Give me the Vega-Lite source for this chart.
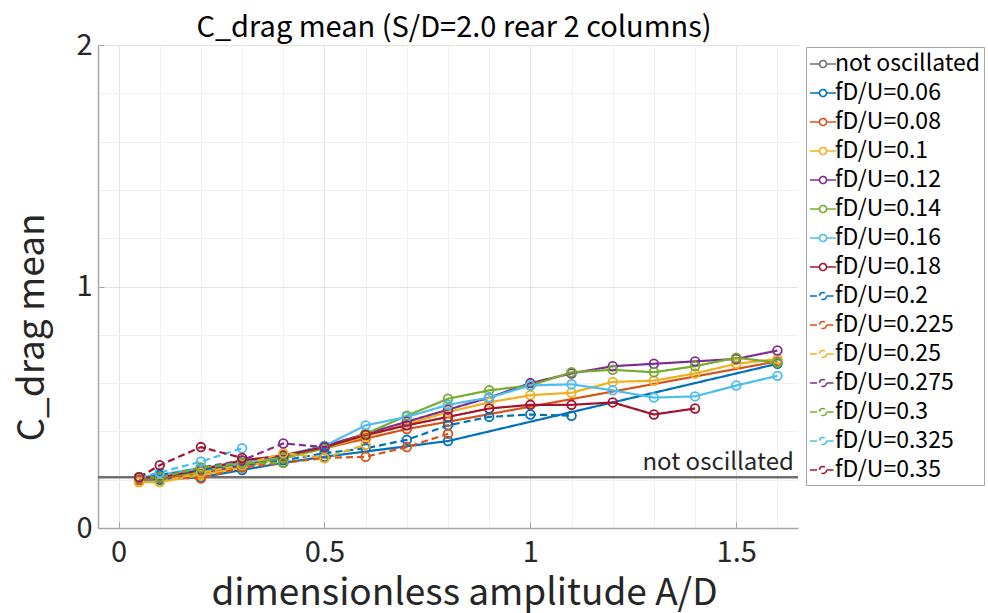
{
  "$schema": "https://vega.github.io/schema/vega-lite/v6.json",
  "autosize": {"type": "none"},
  "padding": {"left": 98, "top": 45, "right": 190, "bottom": 85},
  "width": 700,
  "height": 483,
  "background": "white",
  "title": {"text": "C_drag mean (S/D=2.0 rear 2 columns)", "font": "Noto Sans CJK JP", "fontSize": 29, "fontWeight": "normal", "color": "#000", "anchor": "middle", "frame": "group", "dx": 6, "offset": -12},
  "config": {
    "view": {"stroke": null},
    "axis": {"labelFont": "Noto Sans CJK JP", "titleFont": "Noto Sans CJK JP", "labelColor": "#262626", "titleColor": "#262626", "labelFontSize": 29, "titleFontSize": 37, "titleFontWeight": "normal", "domainColor": "#a6a6a6", "domainWidth": 1.5, "tickSize": -6, "tickWidth": 1},
    "legend": {
      "title": null,
      "orient": "none",
      "legendX": 708,
      "legendY": 2,
      "padding": 3,
      "strokeColor": "#a6a6a6",
      "fillColor": "white",
      "labelFont": "Noto Sans CJK JP",
      "labelFontSize": 23,
      "labelColor": "#000",
      "labelOffset": -2,
      "symbolSize": 676,
      "symbolStrokeWidth": 1.6,
      "symbolFillColor": "transparent",
      "rowPadding": 3,
      "labelLimit": 300
    }
  },
  "layer": [
    {
      "data": {"values": [{"s": "not oscillated", "y": 0.21}]},
      "mark": {"type": "rule", "strokeWidth": 2.5},
      "encoding": {
        "y": {"field": "y", "type": "quantitative", "scale": {"domain": [0, 2], "nice": false}},
        "color": {
          "field": "s", "type": "nominal",
          "scale": {
            "domain": ["not oscillated", "fD/U=0.06", "fD/U=0.08", "fD/U=0.1", "fD/U=0.12", "fD/U=0.14", "fD/U=0.16", "fD/U=0.18", "fD/U=0.2", "fD/U=0.225", "fD/U=0.25", "fD/U=0.275", "fD/U=0.3", "fD/U=0.325", "fD/U=0.35"],
            "range": ["#707070", "#0072BD", "#D95319", "#EDB120", "#7E2F8E", "#77AC30", "#4DBEEE", "#A2142F", "#0072BD", "#D95319", "#EDB120", "#7E2F8E", "#77AC30", "#4DBEEE", "#A2142F"]
          },
          "legend": {"symbolType": "M-1,0H-0.27M0.27,0H1M0.27,0A0.27,0.27,0,1,1,-0.27,0A0.27,0.27,0,1,1,0.27,0"}
        }
      }
    },
    {
      "data": {"values": [{"t": "not oscillated", "x": 1.64, "y": 0.21}]},
      "mark": {"type": "text", "align": "right", "baseline": "bottom", "dy": -2, "font": "Noto Sans CJK JP", "fontSize": 24, "color": "#262626"},
      "encoding": {
        "x": {"field": "x", "type": "quantitative"},
        "y": {"field": "y", "type": "quantitative"},
        "text": {"field": "t"}
      }
    },
    {
      "data": {"name": "series"},
      "mark": {"type": "line", "strokeWidth": 2.2},
      "encoding": {
        "x": {"field": "x", "type": "quantitative"},
        "y": {"field": "y", "type": "quantitative"},
        "strokeDash": {
          "field": "s", "type": "nominal",
          "scale": {
            "domain": ["not oscillated", "fD/U=0.06", "fD/U=0.08", "fD/U=0.1", "fD/U=0.12", "fD/U=0.14", "fD/U=0.16", "fD/U=0.18", "fD/U=0.2", "fD/U=0.225", "fD/U=0.25", "fD/U=0.275", "fD/U=0.3", "fD/U=0.325", "fD/U=0.35"],
            "range": [[1, 0], [1, 0], [1, 0], [1, 0], [1, 0], [1, 0], [1, 0], [1, 0], [7, 4], [7, 4], [7, 4], [7, 4], [7, 4], [7, 4], [7, 4]]
          },
          "legend": {"symbolType": "M-1,0H-0.27M0.27,0H1M0.27,0A0.27,0.27,0,1,1,-0.27,0A0.27,0.27,0,1,1,0.27,0"}
        },
        "color": {
          "field": "s", "type": "nominal",
          "legend": {"symbolType": "M-1,0H-0.27M0.27,0H1M0.27,0A0.27,0.27,0,1,1,-0.27,0A0.27,0.27,0,1,1,0.27,0"}
        }
      }
    },
    {
      "data": {"name": "series"},
      "mark": {"type": "point", "shape": "circle", "filled": false, "size": 75, "strokeWidth": 1.8, "opacity": 1},
      "encoding": {
        "x": {
          "field": "x", "type": "quantitative",
          "scale": {"domain": [-0.05, 1.65], "nice": false, "zero": false},
          "axis": {
            "title": "dimensionless amplitude A/D",
            "values": [0, 0.1, 0.2, 0.3, 0.4, 0.5, 0.6, 0.7, 0.8, 0.9, 1, 1.1, 1.2, 1.3, 1.4, 1.5, 1.6],
            "labelExpr": "datum.value==0?'0':datum.value==0.5?'0.5':datum.value==1?'1':datum.value==1.5?'1.5':''",
            "gridColor": {"condition": {"test": "datum.value==0||datum.value==0.5||datum.value==1||datum.value==1.5", "value": "#e3e3e3"}, "value": "#f1f1f1"},
            "tickColor": {"condition": {"test": "datum.value==0||datum.value==0.5||datum.value==1||datum.value==1.5", "value": "#a6a6a6"}, "value": "transparent"},
            "grid": true,
            "labelPadding": 16,
            "titleBaseline": "alphabetic",
            "titleX": 366,
            "titleY": 76
          }
        },
        "y": {
          "field": "y", "type": "quantitative",
          "scale": {"domain": [0, 2], "nice": false},
          "axis": {
            "title": "C_drag mean",
            "values": [0, 0.1, 0.2, 0.3, 0.4, 0.5, 0.6, 0.7, 0.8, 0.9, 1, 1.1, 1.2, 1.3, 1.4, 1.5, 1.6, 1.7, 1.8, 1.9, 2],
            "labelExpr": "datum.value==0?'0':datum.value==0.5?'0.5':datum.value==1?'1':datum.value==1.5?'1.5':datum.value==2?'2':''",
            "gridColor": {"condition": {"test": "datum.value==0||datum.value==0.5||datum.value==1||datum.value==1.5||datum.value==2", "value": "#e3e3e3"}, "value": "#f1f1f1"},
            "tickColor": {"condition": {"test": "datum.value==0||datum.value==0.5||datum.value==1||datum.value==1.5||datum.value==2", "value": "#a6a6a6"}, "value": "transparent"},
            "grid": true,
            "labelPadding": 12,
            "titleX": -47,
            "titleY": 282
          }
        },
        "color": {
          "field": "s", "type": "nominal",
          "legend": {"symbolType": "M-1,0H-0.27M0.27,0H1M0.27,0A0.27,0.27,0,1,1,-0.27,0A0.27,0.27,0,1,1,0.27,0"}
        }
      }
    }
  ],
  "data": {"name": "series", "values": [
    {"s": "fD/U=0.06", "x": 0.05, "y": 0.20},
    {"s": "fD/U=0.06", "x": 0.1, "y": 0.20},
    {"s": "fD/U=0.06", "x": 0.2, "y": 0.21},
    {"s": "fD/U=0.06", "x": 0.3, "y": 0.24},
    {"s": "fD/U=0.06", "x": 0.4, "y": 0.27},
    {"s": "fD/U=0.06", "x": 0.5, "y": 0.295},
    {"s": "fD/U=0.06", "x": 0.8, "y": 0.36},
    {"s": "fD/U=0.06", "x": 1.6, "y": 0.68},

    {"s": "fD/U=0.08", "x": 0.05, "y": 0.20},
    {"s": "fD/U=0.08", "x": 0.1, "y": 0.21},
    {"s": "fD/U=0.08", "x": 0.2, "y": 0.22},
    {"s": "fD/U=0.08", "x": 0.3, "y": 0.26},
    {"s": "fD/U=0.08", "x": 0.4, "y": 0.29},
    {"s": "fD/U=0.08", "x": 0.5, "y": 0.33},
    {"s": "fD/U=0.08", "x": 0.6, "y": 0.37},
    {"s": "fD/U=0.08", "x": 0.7, "y": 0.41},
    {"s": "fD/U=0.08", "x": 0.8, "y": 0.44},
    {"s": "fD/U=0.08", "x": 1.6, "y": 0.69},

    {"s": "fD/U=0.1", "x": 0.05, "y": 0.19},
    {"s": "fD/U=0.1", "x": 0.1, "y": 0.19},
    {"s": "fD/U=0.1", "x": 0.2, "y": 0.22},
    {"s": "fD/U=0.1", "x": 0.3, "y": 0.25},
    {"s": "fD/U=0.1", "x": 0.4, "y": 0.29},
    {"s": "fD/U=0.1", "x": 0.5, "y": 0.33},
    {"s": "fD/U=0.1", "x": 0.6, "y": 0.38},
    {"s": "fD/U=0.1", "x": 0.7, "y": 0.43},
    {"s": "fD/U=0.1", "x": 0.8, "y": 0.48},
    {"s": "fD/U=0.1", "x": 0.9, "y": 0.52},
    {"s": "fD/U=0.1", "x": 1.0, "y": 0.55},
    {"s": "fD/U=0.1", "x": 1.1, "y": 0.56},
    {"s": "fD/U=0.1", "x": 1.2, "y": 0.605},
    {"s": "fD/U=0.1", "x": 1.3, "y": 0.61},
    {"s": "fD/U=0.1", "x": 1.4, "y": 0.64},
    {"s": "fD/U=0.1", "x": 1.5, "y": 0.68},
    {"s": "fD/U=0.1", "x": 1.6, "y": 0.70},

    {"s": "fD/U=0.12", "x": 0.05, "y": 0.20},
    {"s": "fD/U=0.12", "x": 0.1, "y": 0.21},
    {"s": "fD/U=0.12", "x": 0.2, "y": 0.23},
    {"s": "fD/U=0.12", "x": 0.3, "y": 0.26},
    {"s": "fD/U=0.12", "x": 0.4, "y": 0.30},
    {"s": "fD/U=0.12", "x": 0.5, "y": 0.34},
    {"s": "fD/U=0.12", "x": 0.6, "y": 0.39},
    {"s": "fD/U=0.12", "x": 0.7, "y": 0.44},
    {"s": "fD/U=0.12", "x": 0.8, "y": 0.49},
    {"s": "fD/U=0.12", "x": 0.9, "y": 0.54},
    {"s": "fD/U=0.12", "x": 1.0, "y": 0.60},
    {"s": "fD/U=0.12", "x": 1.1, "y": 0.64},
    {"s": "fD/U=0.12", "x": 1.2, "y": 0.67},
    {"s": "fD/U=0.12", "x": 1.3, "y": 0.68},
    {"s": "fD/U=0.12", "x": 1.4, "y": 0.69},
    {"s": "fD/U=0.12", "x": 1.5, "y": 0.70},
    {"s": "fD/U=0.12", "x": 1.6, "y": 0.735},

    {"s": "fD/U=0.14", "x": 0.05, "y": 0.20},
    {"s": "fD/U=0.14", "x": 0.1, "y": 0.21},
    {"s": "fD/U=0.14", "x": 0.2, "y": 0.23},
    {"s": "fD/U=0.14", "x": 0.3, "y": 0.27},
    {"s": "fD/U=0.14", "x": 0.4, "y": 0.29},
    {"s": "fD/U=0.14", "x": 0.5, "y": 0.33},
    {"s": "fD/U=0.14", "x": 0.6, "y": 0.39},
    {"s": "fD/U=0.14", "x": 0.7, "y": 0.465},
    {"s": "fD/U=0.14", "x": 0.8, "y": 0.535},
    {"s": "fD/U=0.14", "x": 0.9, "y": 0.57},
    {"s": "fD/U=0.14", "x": 1.0, "y": 0.59},
    {"s": "fD/U=0.14", "x": 1.1, "y": 0.645},
    {"s": "fD/U=0.14", "x": 1.2, "y": 0.655},
    {"s": "fD/U=0.14", "x": 1.3, "y": 0.645},
    {"s": "fD/U=0.14", "x": 1.4, "y": 0.67},
    {"s": "fD/U=0.14", "x": 1.5, "y": 0.705},
    {"s": "fD/U=0.14", "x": 1.6, "y": 0.685},

    {"s": "fD/U=0.16", "x": 0.05, "y": 0.21},
    {"s": "fD/U=0.16", "x": 0.1, "y": 0.22},
    {"s": "fD/U=0.16", "x": 0.2, "y": 0.25},
    {"s": "fD/U=0.16", "x": 0.3, "y": 0.27},
    {"s": "fD/U=0.16", "x": 0.4, "y": 0.30},
    {"s": "fD/U=0.16", "x": 0.5, "y": 0.34},
    {"s": "fD/U=0.16", "x": 0.6, "y": 0.425},
    {"s": "fD/U=0.16", "x": 0.7, "y": 0.46},
    {"s": "fD/U=0.16", "x": 0.8, "y": 0.51},
    {"s": "fD/U=0.16", "x": 0.9, "y": 0.54},
    {"s": "fD/U=0.16", "x": 1.0, "y": 0.59},
    {"s": "fD/U=0.16", "x": 1.1, "y": 0.595},
    {"s": "fD/U=0.16", "x": 1.2, "y": 0.57},
    {"s": "fD/U=0.16", "x": 1.3, "y": 0.54},
    {"s": "fD/U=0.16", "x": 1.4, "y": 0.545},
    {"s": "fD/U=0.16", "x": 1.5, "y": 0.59},
    {"s": "fD/U=0.16", "x": 1.6, "y": 0.63},

    {"s": "fD/U=0.18", "x": 0.05, "y": 0.21},
    {"s": "fD/U=0.18", "x": 0.1, "y": 0.21},
    {"s": "fD/U=0.18", "x": 0.2, "y": 0.24},
    {"s": "fD/U=0.18", "x": 0.3, "y": 0.28},
    {"s": "fD/U=0.18", "x": 0.4, "y": 0.30},
    {"s": "fD/U=0.18", "x": 0.5, "y": 0.335},
    {"s": "fD/U=0.18", "x": 0.6, "y": 0.385},
    {"s": "fD/U=0.18", "x": 0.7, "y": 0.425},
    {"s": "fD/U=0.18", "x": 0.8, "y": 0.46},
    {"s": "fD/U=0.18", "x": 0.9, "y": 0.495},
    {"s": "fD/U=0.18", "x": 1.0, "y": 0.51},
    {"s": "fD/U=0.18", "x": 1.1, "y": 0.51},
    {"s": "fD/U=0.18", "x": 1.2, "y": 0.52},
    {"s": "fD/U=0.18", "x": 1.3, "y": 0.47},
    {"s": "fD/U=0.18", "x": 1.4, "y": 0.495},

    {"s": "fD/U=0.2", "x": 0.05, "y": 0.21},
    {"s": "fD/U=0.2", "x": 0.1, "y": 0.22},
    {"s": "fD/U=0.2", "x": 0.2, "y": 0.24},
    {"s": "fD/U=0.2", "x": 0.3, "y": 0.26},
    {"s": "fD/U=0.2", "x": 0.4, "y": 0.28},
    {"s": "fD/U=0.2", "x": 0.5, "y": 0.31},
    {"s": "fD/U=0.2", "x": 0.6, "y": 0.33},
    {"s": "fD/U=0.2", "x": 0.7, "y": 0.365},
    {"s": "fD/U=0.2", "x": 0.8, "y": 0.425},
    {"s": "fD/U=0.2", "x": 0.9, "y": 0.46},
    {"s": "fD/U=0.2", "x": 1.0, "y": 0.47},
    {"s": "fD/U=0.2", "x": 1.1, "y": 0.465},

    {"s": "fD/U=0.225", "x": 0.05, "y": 0.20},
    {"s": "fD/U=0.225", "x": 0.1, "y": 0.21},
    {"s": "fD/U=0.225", "x": 0.2, "y": 0.205},
    {"s": "fD/U=0.225", "x": 0.3, "y": 0.25},
    {"s": "fD/U=0.225", "x": 0.4, "y": 0.27},
    {"s": "fD/U=0.225", "x": 0.5, "y": 0.29},
    {"s": "fD/U=0.225", "x": 0.6, "y": 0.295},
    {"s": "fD/U=0.225", "x": 0.7, "y": 0.335},
    {"s": "fD/U=0.225", "x": 0.8, "y": 0.39},

    {"s": "fD/U=0.25", "x": 0.05, "y": 0.19},
    {"s": "fD/U=0.25", "x": 0.1, "y": 0.19},
    {"s": "fD/U=0.25", "x": 0.2, "y": 0.23},
    {"s": "fD/U=0.25", "x": 0.3, "y": 0.26},
    {"s": "fD/U=0.25", "x": 0.4, "y": 0.31},
    {"s": "fD/U=0.25", "x": 0.5, "y": 0.29},
    {"s": "fD/U=0.25", "x": 0.6, "y": 0.345},

    {"s": "fD/U=0.275", "x": 0.05, "y": 0.21},
    {"s": "fD/U=0.275", "x": 0.1, "y": 0.21},
    {"s": "fD/U=0.275", "x": 0.2, "y": 0.25},
    {"s": "fD/U=0.275", "x": 0.3, "y": 0.28},
    {"s": "fD/U=0.275", "x": 0.4, "y": 0.35},
    {"s": "fD/U=0.275", "x": 0.5, "y": 0.335},

    {"s": "fD/U=0.3", "x": 0.05, "y": 0.21},
    {"s": "fD/U=0.3", "x": 0.1, "y": 0.21},
    {"s": "fD/U=0.3", "x": 0.2, "y": 0.25},
    {"s": "fD/U=0.3", "x": 0.3, "y": 0.27},
    {"s": "fD/U=0.3", "x": 0.4, "y": 0.27},

    {"s": "fD/U=0.325", "x": 0.05, "y": 0.21},
    {"s": "fD/U=0.325", "x": 0.1, "y": 0.23},
    {"s": "fD/U=0.325", "x": 0.2, "y": 0.275},
    {"s": "fD/U=0.325", "x": 0.3, "y": 0.33},

    {"s": "fD/U=0.35", "x": 0.05, "y": 0.21},
    {"s": "fD/U=0.35", "x": 0.1, "y": 0.26},
    {"s": "fD/U=0.35", "x": 0.2, "y": 0.335},
    {"s": "fD/U=0.35", "x": 0.3, "y": 0.29}
  ]}
}
